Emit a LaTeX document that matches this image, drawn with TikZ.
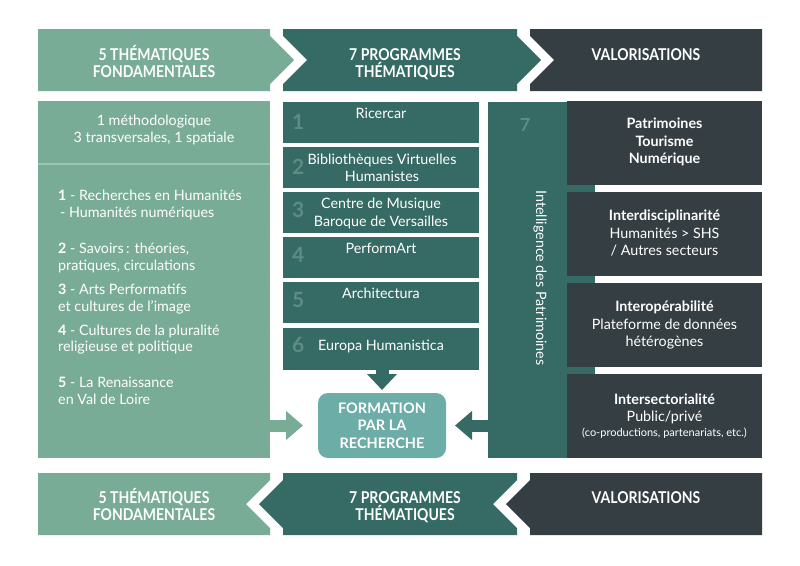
\documentclass[tikz,border=0pt]{standalone}
\usepackage{fontspec}
\setmainfont{Lato}
\newfontfamily\condfont[FakeStretch=0.86]{Lato}
\usetikzlibrary{arrows.meta}
\definecolor{lightg}{HTML}{79AC97}
\definecolor{tealc}{HTML}{356B64}
\definecolor{darkc}{HTML}{353F43}
\definecolor{formc}{HTML}{6DADA8}
\definecolor{numc}{HTML}{5F8B85}
\definecolor{divc}{HTML}{9DC5B4}
\tikzset{
  txt/.style={text=white, font=\fontsize{14.3}{17.5}\selectfont, inner sep=0pt},
  smalltxt/.style={text=white, font=\fontsize{11}{12}\selectfont, inner sep=0pt},
  bannertxt/.style={text=white, font=\condfont\bfseries\fontsize{16.3}{17}\selectfont, align=center, inner sep=0pt, anchor=base},
  numtxt/.style={text=numc, font=\bfseries\fontsize{21}{21}\selectfont, inner sep=0pt, anchor=base west},
  panel/.style={inner sep=0pt, outer sep=0pt, anchor=north west},
  progbox/.style={panel, fill=tealc, minimum width=196pt},
  valbox/.style={panel, fill=darkc, minimum width=195pt, minimum height=84pt},
  blockarrow/.style={line width=12pt},
}
\begin{document}
\begin{tikzpicture}[x=1pt,y=-1pt]
\useasboundingbox (0,0) rectangle (800,565);
\fill[white] (0,0) rectangle (800,565);

% ---- top banner (anchor=base of a multi-line node = baseline of its last line)
\fill[lightg] (38,29) -- (270,29) -- (270,36) -- (294,60) -- (270,84) -- (270,91) -- (38,91) -- cycle;
\fill[tealc] (283,29) -- (517,29) -- (517,36) -- (541,60) -- (517,84) -- (517,91) -- (283,91) -- (283,84) -- (307,60) -- (283,36) -- cycle;
\fill[darkc] (530,29) -- (762,29) -- (762,91) -- (530,91) -- (530,84) -- (554,60) -- (530,36) -- cycle;
\node[bannertxt] (t1) at (154,77.5) {5 THÉMATIQUES\\FONDAMENTALES};
\node[bannertxt] (t2) at (405,77.5) {7 PROGRAMMES\\THÉMATIQUES};
\node[bannertxt] (t3) at (646,60.5) {VALORISATIONS};

% ---- bottom banner
\fill[lightg] (38,473) -- (270,473) -- (270,480) -- (246,504) -- (270,528) -- (270,535) -- (38,535) -- cycle;
\fill[tealc] (283,473) -- (517,473) -- (517,480) -- (493,504) -- (517,528) -- (517,535) -- (283,535) -- (283,528) -- (259,504) -- (283,480) -- cycle;
\fill[darkc] (530,473) -- (762,473) -- (762,535) -- (530,535) -- (530,528) -- (506,504) -- (530,480) -- cycle;
\node[bannertxt] (u1) at (154,520.5) {5 THÉMATIQUES\\FONDAMENTALES};
\node[bannertxt] (u2) at (405,520.5) {7 PROGRAMMES\\THÉMATIQUES};
\node[bannertxt] (u3) at (646,503.5) {VALORISATIONS};

% ---- left panel
\node[panel, fill=lightg, minimum width=232pt, minimum height=357pt] (lp) at (38,101) {};
\draw[divc, line width=1.5pt] (lp.west |- 0,164) -- (lp.east |- 0,164);
\node[txt, align=center, anchor=base, font=\fontsize{14.3}{17}\selectfont] (lphead) at (154,142.5) {1 méthodologique\\3 transversales, 1 spatiale};
\node[txt, align=left, anchor=base west] (it1) at (58,217.5) {\textbf{1} - Recherches en Humanités\\\hspace*{2pt}- Humanités numériques};
\node[txt, align=left, anchor=base west, font=\fontsize{14.3}{17}\selectfont] (it2) at (58,270.5) {\textbf{2} - Savoirs\,: théories,\\pratiques, circulations};
\node[txt, align=left, anchor=base west, font=\fontsize{14.3}{17}\selectfont] (it3) at (58,311.5) {\textbf{3} - Arts Performatifs\\et cultures de l’image};
\node[txt, align=left, anchor=base west, font=\fontsize{14.3}{16.5}\selectfont] (it4) at (58,351.5) {\textbf{4} - Cultures de la pluralité\\religieuse et politique};
\node[txt, align=left, anchor=base west, font=\fontsize{14.3}{17}\selectfont] (it5) at (58,404.5) {\textbf{5} - La Renaissance\\en Val de Loire};

% ---- programme boxes
\node[progbox, minimum height=41pt] (p1) at (283,102) {};
\node[progbox, minimum height=41pt] (p2) at (283,147) {};
\node[progbox, minimum height=40.5pt] (p3) at (283,192) {};
\node[progbox, minimum height=41pt] (p4) at (283,237) {};
\node[progbox, minimum height=41pt] (p5) at (283,282) {};
\node[progbox, minimum height=42pt] (p6) at (283,328) {};
\node[numtxt] (n1) at (292,129.5) {1};
\node[numtxt] (n2) at (292,174.5) {2};
\node[numtxt] (n3) at (292,217.5) {3};
\node[numtxt] (n4) at (292,262.5) {4};
\node[numtxt] (n5) at (292,307.5) {5};
\node[numtxt] (n6) at (292,352.5) {6};
\node[txt, align=center, anchor=base] (pt1) at (381,118.5) {Ricercar};
\node[txt, align=center, anchor=base, font=\fontsize{14.3}{17}\selectfont] (pt2) at (382,181.5) {Bibliothèques Virtuelles\\Humanistes};
\node[txt, align=center, anchor=base, font=\fontsize{14.3}{18}\selectfont] (pt3) at (381,226.5) {Centre de Musique\\Baroque de Versailles};
\node[txt, align=center, anchor=base] (pt4) at (381,253.5) {PerformArt};
\node[txt, align=center, anchor=base] (pt5) at (381,298.5) {Architectura};
\node[txt, align=center, anchor=base] (pt6) at (381,350.5) {Europa Humanistica};

% ---- intelligence des patrimoines
\node[panel, fill=tealc, minimum width=107pt, minimum height=356pt] (intel) at (488,102) {};
\node[text=numc, font=\bfseries\fontsize{18}{18}\selectfont, inner sep=0pt, anchor=base] (n7) at (525,131.5) {7};
\node[txt, rotate=-90] (inteltxt) at (540,278) {Intelligence des Patrimoines};

% ---- valorisation boxes
\node[valbox] (v1) at (567,101) {};
\node[valbox] (v2) at (567,192) {};
\node[valbox] (v3) at (567,283) {};
\node[valbox] (v4) at (567,374) {};
\node[txt, align=center, anchor=base, font=\bfseries\fontsize{14.3}{17.5}\selectfont] (vt1) at (664.5,163.5) {Patrimoines\\Tourisme\\Numérique};
\node[txt, align=center, anchor=base] (vt2) at (664.5,255.5) {\textbf{Interdisciplinarité}\\Humanités > SHS\\/ Autres secteurs};
\node[txt, align=center, anchor=base] (vt3) at (664.5,346.5) {\textbf{Interopérabilité}\\Plateforme de données\\hétérogènes};
\node[txt, align=center, anchor=base] (vt4) at (664.5,421.5) {\textbf{Intersectorialité}\\Public/privé};
\node[smalltxt, anchor=base] (vt4b) at (664.5,436.5) {(co-productions, partenariats, etc.)};

% ---- formation
\node[panel, fill=formc, rounded corners=10pt, minimum width=128pt, minimum height=65pt] (form) at (318,393) {};
\node[txt, align=center, anchor=base, font=\bfseries\fontsize{14.5}{17.5}\selectfont] (formtxt) at (382,448) {FORMATION\\PAR LA\\RECHERCHE};

% ---- arrows
\draw[blockarrow, lightg, -{Triangle[length=17pt,width=28pt]}, shorten >=15pt] (lp.east |- form.west) -- (form.west);
\draw[blockarrow, tealc, -{Triangle[length=17pt,width=28pt]}, shorten >=9pt] (intel.west |- form.east) -- (form.east);
\draw[line width=13pt, tealc, -{Triangle[length=16pt,width=29pt]}, shorten >=3pt] (p6.south -| form.north) -- (form.north);
\end{tikzpicture}
\end{document}
